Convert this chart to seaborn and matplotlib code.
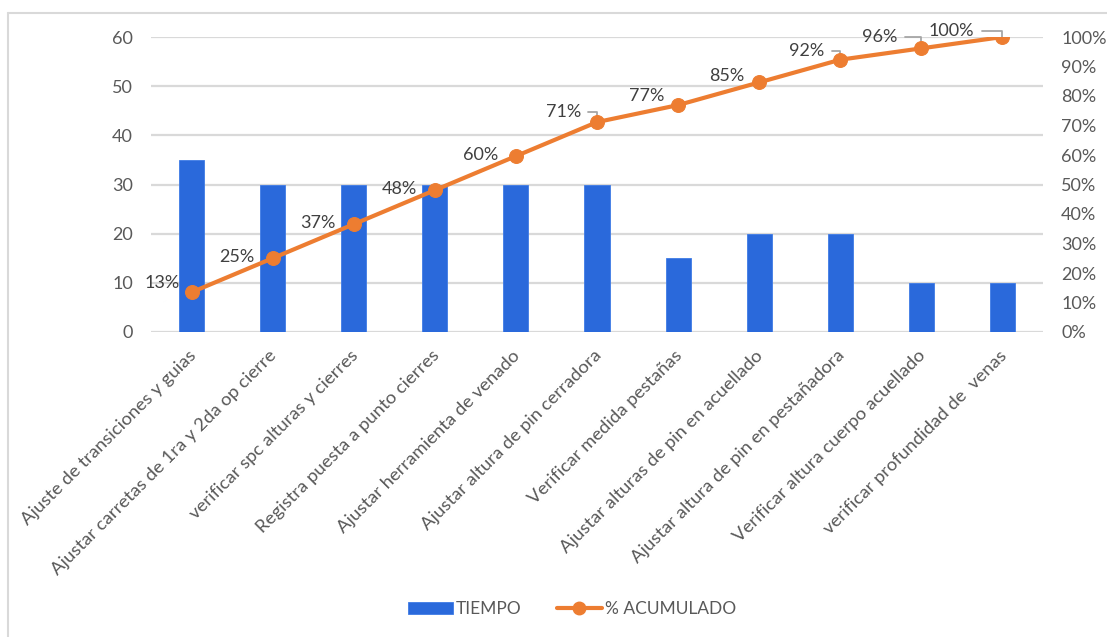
import numpy as np
import pandas as pd
import matplotlib
matplotlib.use("Agg")
import matplotlib.pyplot as plt
import matplotlib.transforms as mtransforms
from matplotlib.lines import Line2D
from matplotlib.patches import Patch
import seaborn as sns

categories = [
    "Ajuste de transiciones y guias",
    "Ajustar carretas de 1ra y 2da op cierre",
    "verificar spc alturas y cierres",
    "Registra puesta a punto cierres",
    "Ajustar herramienta de venado",
    "Ajustar altura de pin cerradora",
    "Verificar medida pestañas",
    "Ajustar alturas de pin en acuellado",
    "Ajustar altura de pin en pestañadora",
    "Verificar altura cuerpo acuellado",
    "verificar profundidad de  venas",
]
tiempo = [35, 30, 30, 30, 30, 30, 15, 20, 20, 10, 10]
left_ticks = [0, 10, 20, 30, 40, 50, 60]
right_ticks = [0.0, 0.1, 0.2, 0.3, 0.4, 0.5, 0.6, 0.7, 0.8, 0.9, 1.0]

df = pd.DataFrame({"cat": categories, "tiempo": tiempo})
df["acum"] = df["tiempo"].cumsum() / df["tiempo"].sum()
df["pos"] = np.arange(len(df))

# label offsets (pixels) relative to each point, and which get leader lines
label_offsets = [(-12, 9), (-18, 1), (-18, 1), (-18, 1), (-18, 1), (-16, 10),
                 (-14, 9), (-15, 6), (-16, 9), (-24, 11), (-28, 6)]
leaders = [False, False, False, False, False, True, False, False, True, True, True]

sns.set_theme(style="white")
plt.rcParams["font.family"] = ["Lato", "DejaVu Sans"]

TXT = "#595959"
BLUE = "#2A69DB"
ORANGE = "#ED7D31"
GRID = "#D9D9D9"

fig = plt.figure(figsize=(11.07, 6.37), dpi=100)
ax = fig.add_axes([151 / 1107, 1 - 332 / 637, (1043 - 151) / 1107, (332 - 37) / 637])

sns.barplot(data=df, x="cat", y="tiempo", ax=ax, color=BLUE, width=0.31,
            saturation=1, edgecolor="#3F7BE6", linewidth=0.6, zorder=2)
ax.set_ylim(0, 60)
ax.set_xlim(-0.5, len(df) - 0.5)
ax.set_yticks(left_ticks)
ax.set_yticklabels([str(t) for t in left_ticks])
ax.yaxis.grid(True, color=GRID, linewidth=1.6, zorder=0)
ax.set_axisbelow(True)
ax.set_xlabel("")
ax.set_ylabel("")
for s in ax.spines.values():
    s.set_visible(False)
ax.tick_params(axis="y", length=0, pad=13, labelsize=13, labelcolor=TXT)
ax.tick_params(axis="x", length=0, pad=11, labelsize=13.3, labelcolor=TXT)
shift = mtransforms.ScaledTranslation(-4 / 100, 0, fig.dpi_scale_trans)
for lbl in ax.get_xticklabels():
    lbl.set_rotation(45)
    lbl.set_ha("right")
    lbl.set_va("top")
    lbl.set_rotation_mode("anchor")
    lbl.set_transform(lbl.get_transform() + shift)

ax2 = ax.twinx()
sns.lineplot(data=df, x="pos", y="acum", ax=ax2, color=ORANGE, linewidth=3,
             marker="o", markersize=10, markeredgecolor=ORANGE, zorder=5)
ax2.set_ylim(0, 1)
ax2.set_xlim(-0.5, len(df) - 0.5)
ax2.set_yticks(right_ticks)
ax2.set_yticklabels([f"{int(round(t * 100))}%" for t in right_ticks])
ax2.set_ylabel("")
ax2.set_xlabel("")
for s in ax2.spines.values():
    s.set_visible(False)
ax2.tick_params(axis="y", length=0, pad=13, labelsize=13, labelcolor=TXT)

for i, row in df.iterrows():
    dx, dy = label_offsets[i]
    txt = f"{int(round(row['acum'] * 100))}%"
    kw = {}
    if leaders[i]:
        kw["arrowprops"] = dict(arrowstyle="-", color="#A6A6A6", lw=1.3,
                                shrinkA=3, shrinkB=0,
                                connectionstyle="angle,angleA=0,angleB=90,rad=0")
    ax2.annotate(txt, xy=(row["pos"], row["acum"]), xytext=(dx, dy),
                 textcoords="offset pixels", ha="right", va="center",
                 fontsize=13, color="#404040", zorder=4, **kw)

handles = [Patch(facecolor=BLUE, edgecolor="#3F7BE6", linewidth=0.6),
           Line2D([0], [0], color=ORANGE, lw=3, marker="o", markersize=9)]
fig.legend(handles, ["TIEMPO", "% ACUMULADO"], loc="center",
           bbox_to_anchor=(572 / 1107, 1 - 609 / 637), ncol=2, frameon=False,
           fontsize=12.5, labelcolor=TXT, handlelength=2.6, handleheight=0.65,
           columnspacing=2.0, handletextpad=0.2)

fig.add_artist(Line2D([8 / 1107, 8 / 1107], [0, 1 - 13 / 637], color=GRID,
                      lw=1.5, transform=fig.transFigure))
fig.add_artist(Line2D([8 / 1107, 1], [1 - 13 / 637, 1 - 13 / 637], color=GRID,
                      lw=1.5, transform=fig.transFigure))

fig.savefig("out.png", dpi=100)
